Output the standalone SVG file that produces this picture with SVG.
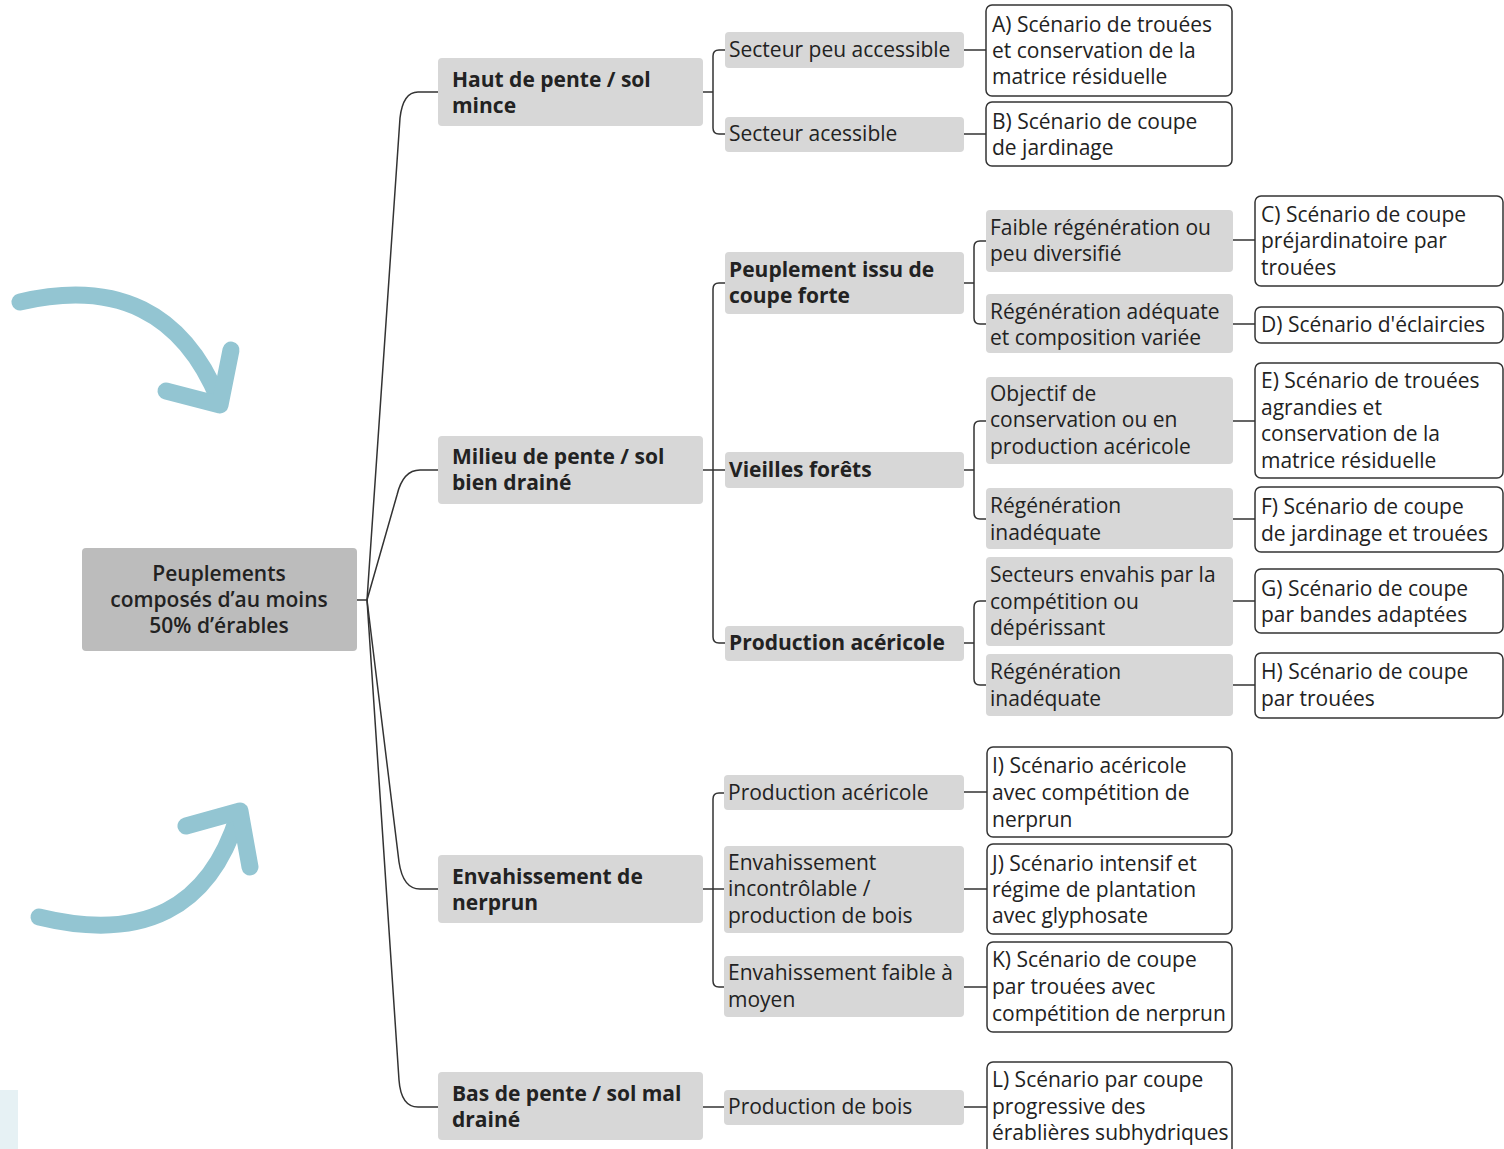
<svg xmlns="http://www.w3.org/2000/svg" width="1504" height="1149" viewBox="0 0 1504 1149">
<style>
text{font-family:"Open Sans","Liberation Sans",sans-serif;font-size:21px;fill:#222}
.b{font-weight:bold}
.m{font-weight:600}
.root{fill:#bcbcbc}
.g{fill:#d7d7d7}
.leaf{fill:#fff;stroke:#333;stroke-width:1.5}
.c{fill:none;stroke:#333;stroke-width:1.5}
.arr{fill:none;stroke:#93c5d2;stroke-width:17;stroke-linecap:round;stroke-linejoin:round}
</style>
<rect width="1504" height="1149" fill="#fff"/>
<rect x="0" y="1090" width="18" height="59" fill="#e6f1f4"/>
<g id="arrows">
<path class="arr" d="M20,302 Q165,268 219,400"/>
<path class="arr" d="M231,350 L220,405 L166,391"/>
<path class="arr" d="M39,917 Q195,955 238,816"/>
<path class="arr" d="M186,826 L240,811 L250,867"/>
</g>
<g id="connectors">
<path class="c" d="M357,600 H367 L400,118 Q403,92 418,92 H438"/>
<path class="c" d="M367,600 L397,495 Q403,470 420,470 H438"/>
<path class="c" d="M367,600 L399,862 Q403,889 420,889 H438"/>
<path class="c" d="M367,600 L399,1080 Q401,1107 418,1107 H438"/>
<path class="c" d="M703,92 H713 M725,50 H719 Q713,50 713,56 V128 Q713,134 719,134 H725"/>
<path class="c" d="M703,470 H725 M725,283 H719 Q713,283 713,289 V637 Q713,643 719,643 H725"/>
<path class="c" d="M964,283 H974 M986,241 H980 Q974,241 974,247 V318 Q974,324 980,324 H986"/>
<path class="c" d="M964,470 H974 M986,421 H980 Q974,421 974,427 V513 Q974,519 980,519 H986"/>
<path class="c" d="M964,643 H974 M986,601 H980 Q974,601 974,607 V679 Q974,685 980,685 H986"/>
<path class="c" d="M703,889 H724 M724,793 H719 Q713,793 713,799 V981 Q713,987 719,987 H724"/>
<path class="c" d="M703,1107 H724"/>
<path class="c" d="M964,50 H986 M964,134 H986 M1233,240 H1255 M1233,324 H1255 M1233,421 H1255 M1233,519 H1255 M1233,601 H1255 M1233,685 H1255 M964,792 H987 M964,889 H987 M964,987 H987 M964,1107 H987"/>
</g>
<g id="root">
<rect class="root" x="82" y="548" width="275" height="103" rx="4"/>
<text class="m" x="219" y="581" text-anchor="middle">Peuplements</text>
<text class="m" x="219" y="607" text-anchor="middle">composés d’au moins</text>
<text class="m" x="219" y="633" text-anchor="middle">50% d’érables</text>
</g>
<g id="haut">
<rect class="g" x="438" y="58" width="265" height="68" rx="4"/>
<text class="b" x="452" y="87">Haut de pente / sol</text>
<text class="b" x="452" y="113">mince</text>
</g>
<g id="milieu">
<rect class="g" x="438" y="436" width="265" height="68" rx="4"/>
<text class="b" x="452" y="464">Milieu de pente / sol</text>
<text class="b" x="452" y="490">bien drainé</text>
</g>
<g id="envahissement">
<rect class="g" x="438" y="855" width="265" height="68" rx="4"/>
<text class="b" x="452" y="884">Envahissement de</text>
<text class="b" x="452" y="910">nerprun</text>
</g>
<g id="bas">
<rect class="g" x="438" y="1072" width="265" height="68" rx="4"/>
<text class="b" x="452" y="1101">Bas de pente / sol mal</text>
<text class="b" x="452" y="1127">drainé</text>
</g>
<g id="peu-accessible">
<rect class="g" x="725" y="32" width="239" height="36" rx="4"/>
<text x="729" y="57">Secteur peu accessible</text>
</g>
<g id="accessible">
<rect class="g" x="725" y="117" width="239" height="35" rx="4"/>
<text x="729" y="141">Secteur acessible</text>
</g>
<g id="peuplement-coupe">
<rect class="g" x="725" y="252" width="239" height="62" rx="4"/>
<text class="b" x="729" y="277">Peuplement issu de</text>
<text class="b" x="729" y="303">coupe forte</text>
</g>
<g id="vieilles">
<rect class="g" x="725" y="452" width="239" height="36" rx="4"/>
<text class="b" x="729" y="477">Vieilles forêts</text>
</g>
<g id="prod-acer-1">
<rect class="g" x="725" y="626" width="239" height="35" rx="4"/>
<text class="b" x="729" y="650">Production acéricole</text>
</g>
<g id="faible-regen">
<rect class="g" x="986" y="210" width="247" height="62" rx="4"/>
<text x="990" y="235">Faible régénération ou</text>
<text x="990" y="261">peu diversifié</text>
</g>
<g id="regen-adequate">
<rect class="g" x="986" y="294" width="247" height="59" rx="4"/>
<text x="990" y="319">Régénération adéquate</text>
<text x="990" y="345">et composition variée</text>
</g>
<g id="objectif">
<rect class="g" x="986" y="377" width="247" height="87" rx="4"/>
<text x="990" y="401">Objectif de</text>
<text x="990" y="427">conservation ou en</text>
<text x="990" y="454">production acéricole</text>
</g>
<g id="regen-inad-1">
<rect class="g" x="986" y="488" width="247" height="61" rx="4"/>
<text x="990" y="513">Régénération</text>
<text x="990" y="540">inadéquate</text>
</g>
<g id="secteurs-envahis">
<rect class="g" x="986" y="557" width="247" height="89" rx="4"/>
<text x="990" y="582">Secteurs envahis par la</text>
<text x="990" y="609">compétition ou</text>
<text x="990" y="635">dépérissant</text>
</g>
<g id="regen-inad-2">
<rect class="g" x="986" y="654" width="247" height="62" rx="4"/>
<text x="990" y="679">Régénération</text>
<text x="990" y="706">inadéquate</text>
</g>
<g id="prod-acer-2">
<rect class="g" x="724" y="775" width="240" height="35" rx="4"/>
<text x="728" y="800">Production acéricole</text>
</g>
<g id="envah-incontrolable">
<rect class="g" x="724" y="846" width="240" height="87" rx="4"/>
<text x="728" y="870">Envahissement</text>
<text x="728" y="896">incontrôlable /</text>
<text x="728" y="923">production de bois</text>
</g>
<g id="envah-faible">
<rect class="g" x="724" y="956" width="240" height="61" rx="4"/>
<text x="728" y="980">Envahissement faible à</text>
<text x="728" y="1007">moyen</text>
</g>
<g id="prod-bois">
<rect class="g" x="724" y="1090" width="240" height="35" rx="4"/>
<text x="728" y="1114">Production de bois</text>
</g>
<g id="leaf-a">
<rect class="leaf" x="986" y="5" width="246" height="91" rx="6"/>
<text x="992" y="32">A) Scénario de trouées</text>
<text x="992" y="58">et conservation de la</text>
<text x="992" y="84">matrice résiduelle</text>
</g>
<g id="leaf-b">
<rect class="leaf" x="986" y="102" width="246" height="64" rx="6"/>
<text x="992" y="129">B) Scénario de coupe</text>
<text x="992" y="155">de jardinage</text>
</g>
<g id="leaf-c">
<rect class="leaf" x="1255" y="196" width="248" height="90" rx="6"/>
<text x="1261" y="222">C) Scénario de coupe</text>
<text x="1261" y="248">préjardinatoire par</text>
<text x="1261" y="275">trouées</text>
</g>
<g id="leaf-d">
<rect class="leaf" x="1255" y="307" width="248" height="36" rx="6"/>
<text x="1261" y="332">D) Scénario d'éclaircies</text>
</g>
<g id="leaf-e">
<rect class="leaf" x="1255" y="363" width="248" height="115" rx="6"/>
<text x="1261" y="388">E) Scénario de trouées</text>
<text x="1261" y="415">agrandies et</text>
<text x="1261" y="441">conservation de la</text>
<text x="1261" y="468">matrice résiduelle</text>
</g>
<g id="leaf-f">
<rect class="leaf" x="1255" y="487" width="248" height="65" rx="6"/>
<text x="1261" y="514">F) Scénario de coupe</text>
<text x="1261" y="541">de jardinage et trouées</text>
</g>
<g id="leaf-g">
<rect class="leaf" x="1255" y="569" width="248" height="64" rx="6"/>
<text x="1261" y="596">G) Scénario de coupe</text>
<text x="1261" y="622">par bandes adaptées</text>
</g>
<g id="leaf-h">
<rect class="leaf" x="1255" y="653" width="248" height="65" rx="6"/>
<text x="1261" y="679">H) Scénario de coupe</text>
<text x="1261" y="706">par trouées</text>
</g>
<g id="leaf-i">
<rect class="leaf" x="987" y="747" width="245" height="90" rx="6"/>
<text x="992" y="773">I) Scénario acéricole</text>
<text x="992" y="800">avec compétition de</text>
<text x="992" y="827">nerprun</text>
</g>
<g id="leaf-j">
<rect class="leaf" x="987" y="844" width="245" height="90" rx="6"/>
<text x="992" y="871">J) Scénario intensif et</text>
<text x="992" y="897">régime de plantation</text>
<text x="992" y="923">avec glyphosate</text>
</g>
<g id="leaf-k">
<rect class="leaf" x="987" y="942" width="245" height="90" rx="6"/>
<text x="992" y="967">K) Scénario de coupe</text>
<text x="992" y="994">par trouées avec</text>
<text x="992" y="1021">compétition de nerprun</text>
</g>
<g id="leaf-l">
<rect class="leaf" x="987" y="1062" width="245" height="100" rx="6"/>
<text x="992" y="1087">L) Scénario par coupe</text>
<text x="992" y="1114">progressive des</text>
<text x="992" y="1140">érablières subhydriques</text>
</g>
</svg>
